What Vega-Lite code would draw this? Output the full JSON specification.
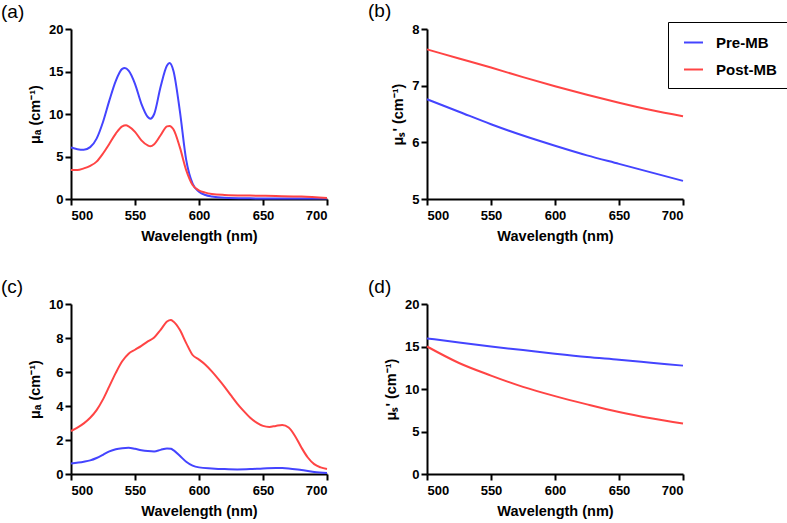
{
"$schema": "https://vega.github.io/schema/vega-lite/v6.json",
"autosize": "none",
"padding": {"left": 71, "top": 29, "right": 716, "bottom": 494},
"background": "white",
"bounds": "flush",
"columns": 2,
"spacing": {"row": 105, "column": 100},
"config": {
  "view": {"stroke": null},
  "font": "Liberation Sans",
  "axis": {"grid": false, "domainColor": "black", "domainWidth": 2, "tickColor": "black", "tickWidth": 2, "tickSize": 6,
           "labelFont": "Liberation Sans", "labelFontSize": 13, "labelFontWeight": "bold", "labelColor": "black",
           "titleFont": "Liberation Sans", "titleFontSize": 14.5, "titleFontWeight": "bold", "titleColor": "black", "labelPadding": 2},
  "axisX": {"titlePadding": 7, "labelPadding": 4},
  "axisY": {"titlePadding": 6},
  "title": {"anchor": "start", "frame": "group", "fontSize": 19, "fontWeight": "normal", "font": "Liberation Sans", "color": "black", "offset": 0, "dy": 3}
},
"data": {"values": [
{"p":"a","s":"Pre-MB","w":500,"v":6.05},{"p":"a","s":"Pre-MB","w":505,"v":5.86},{"p":"a","s":"Pre-MB","w":510,"v":5.8},{"p":"a","s":"Pre-MB","w":515,"v":6.1},{"p":"a","s":"Pre-MB","w":520,"v":7.1},{"p":"a","s":"Pre-MB","w":525,"v":9.06},{"p":"a","s":"Pre-MB","w":530,"v":11.6},{"p":"a","s":"Pre-MB","w":535,"v":13.9},{"p":"a","s":"Pre-MB","w":540,"v":15.3},{"p":"a","s":"Pre-MB","w":542,"v":15.4},{"p":"a","s":"Pre-MB","w":545,"v":15.1},{"p":"a","s":"Pre-MB","w":550,"v":13.55},{"p":"a","s":"Pre-MB","w":555,"v":11.2},{"p":"a","s":"Pre-MB","w":560,"v":9.65},{"p":"a","s":"Pre-MB","w":562,"v":9.45},{"p":"a","s":"Pre-MB","w":565,"v":10.0},{"p":"a","s":"Pre-MB","w":570,"v":13.2},{"p":"a","s":"Pre-MB","w":575,"v":15.7},{"p":"a","s":"Pre-MB","w":577,"v":16.0},{"p":"a","s":"Pre-MB","w":580,"v":15.1},{"p":"a","s":"Pre-MB","w":585,"v":10.4},{"p":"a","s":"Pre-MB","w":590,"v":4.6},{"p":"a","s":"Pre-MB","w":595,"v":1.8},{"p":"a","s":"Pre-MB","w":600,"v":0.86},{"p":"a","s":"Pre-MB","w":605,"v":0.47},{"p":"a","s":"Pre-MB","w":610,"v":0.3},{"p":"a","s":"Pre-MB","w":620,"v":0.15},{"p":"a","s":"Pre-MB","w":640,"v":0.08},{"p":"a","s":"Pre-MB","w":660,"v":0.05},{"p":"a","s":"Pre-MB","w":680,"v":0.05},{"p":"a","s":"Pre-MB","w":700,"v":0.05},
{"p":"a","s":"Post-MB","w":500,"v":3.4},{"p":"a","s":"Post-MB","w":505,"v":3.4},{"p":"a","s":"Post-MB","w":510,"v":3.6},{"p":"a","s":"Post-MB","w":515,"v":3.9},{"p":"a","s":"Post-MB","w":520,"v":4.4},{"p":"a","s":"Post-MB","w":525,"v":5.35},{"p":"a","s":"Post-MB","w":530,"v":6.5},{"p":"a","s":"Post-MB","w":535,"v":7.7},{"p":"a","s":"Post-MB","w":540,"v":8.55},{"p":"a","s":"Post-MB","w":543,"v":8.67},{"p":"a","s":"Post-MB","w":545,"v":8.55},{"p":"a","s":"Post-MB","w":550,"v":7.9},{"p":"a","s":"Post-MB","w":555,"v":6.9},{"p":"a","s":"Post-MB","w":560,"v":6.3},{"p":"a","s":"Post-MB","w":562,"v":6.2},{"p":"a","s":"Post-MB","w":565,"v":6.45},{"p":"a","s":"Post-MB","w":570,"v":7.5},{"p":"a","s":"Post-MB","w":575,"v":8.55},{"p":"a","s":"Post-MB","w":577,"v":8.6},{"p":"a","s":"Post-MB","w":580,"v":8.2},{"p":"a","s":"Post-MB","w":585,"v":6.1},{"p":"a","s":"Post-MB","w":590,"v":3.4},{"p":"a","s":"Post-MB","w":595,"v":1.65},{"p":"a","s":"Post-MB","w":600,"v":1.0},{"p":"a","s":"Post-MB","w":605,"v":0.75},{"p":"a","s":"Post-MB","w":610,"v":0.6},{"p":"a","s":"Post-MB","w":620,"v":0.48},{"p":"a","s":"Post-MB","w":640,"v":0.4},{"p":"a","s":"Post-MB","w":660,"v":0.35},{"p":"a","s":"Post-MB","w":680,"v":0.28},{"p":"a","s":"Post-MB","w":700,"v":0.12},
{"p":"b","s":"Pre-MB","w":500,"v":6.76},{"p":"b","s":"Pre-MB","w":525,"v":6.54},{"p":"b","s":"Pre-MB","w":550,"v":6.32},{"p":"b","s":"Pre-MB","w":575,"v":6.12},{"p":"b","s":"Pre-MB","w":600,"v":5.94},{"p":"b","s":"Pre-MB","w":625,"v":5.77},{"p":"b","s":"Pre-MB","w":650,"v":5.62},{"p":"b","s":"Pre-MB","w":675,"v":5.47},{"p":"b","s":"Pre-MB","w":700,"v":5.32},
{"p":"b","s":"Post-MB","w":500,"v":7.64},{"p":"b","s":"Post-MB","w":525,"v":7.48},{"p":"b","s":"Post-MB","w":550,"v":7.32},{"p":"b","s":"Post-MB","w":575,"v":7.15},{"p":"b","s":"Post-MB","w":600,"v":6.99},{"p":"b","s":"Post-MB","w":625,"v":6.84},{"p":"b","s":"Post-MB","w":650,"v":6.70},{"p":"b","s":"Post-MB","w":675,"v":6.57},{"p":"b","s":"Post-MB","w":700,"v":6.46},
{"p":"c","s":"Pre-MB","w":500,"v":0.62},{"p":"c","s":"Pre-MB","w":510,"v":0.72},{"p":"c","s":"Pre-MB","w":515,"v":0.8},{"p":"c","s":"Pre-MB","w":520,"v":0.94},{"p":"c","s":"Pre-MB","w":525,"v":1.13},{"p":"c","s":"Pre-MB","w":530,"v":1.33},{"p":"c","s":"Pre-MB","w":535,"v":1.46},{"p":"c","s":"Pre-MB","w":540,"v":1.52},{"p":"c","s":"Pre-MB","w":545,"v":1.54},{"p":"c","s":"Pre-MB","w":550,"v":1.48},{"p":"c","s":"Pre-MB","w":555,"v":1.4},{"p":"c","s":"Pre-MB","w":560,"v":1.35},{"p":"c","s":"Pre-MB","w":565,"v":1.33},{"p":"c","s":"Pre-MB","w":570,"v":1.42},{"p":"c","s":"Pre-MB","w":575,"v":1.5},{"p":"c","s":"Pre-MB","w":578,"v":1.48},{"p":"c","s":"Pre-MB","w":580,"v":1.4},{"p":"c","s":"Pre-MB","w":585,"v":1.07},{"p":"c","s":"Pre-MB","w":590,"v":0.72},{"p":"c","s":"Pre-MB","w":595,"v":0.49},{"p":"c","s":"Pre-MB","w":600,"v":0.39},{"p":"c","s":"Pre-MB","w":610,"v":0.33},{"p":"c","s":"Pre-MB","w":620,"v":0.29},{"p":"c","s":"Pre-MB","w":630,"v":0.27},{"p":"c","s":"Pre-MB","w":640,"v":0.29},{"p":"c","s":"Pre-MB","w":650,"v":0.33},{"p":"c","s":"Pre-MB","w":660,"v":0.35},{"p":"c","s":"Pre-MB","w":665,"v":0.35},{"p":"c","s":"Pre-MB","w":670,"v":0.33},{"p":"c","s":"Pre-MB","w":680,"v":0.23},{"p":"c","s":"Pre-MB","w":690,"v":0.12},{"p":"c","s":"Pre-MB","w":700,"v":0.06},
{"p":"c","s":"Post-MB","w":500,"v":2.53},{"p":"c","s":"Post-MB","w":505,"v":2.73},{"p":"c","s":"Post-MB","w":510,"v":2.98},{"p":"c","s":"Post-MB","w":515,"v":3.31},{"p":"c","s":"Post-MB","w":520,"v":3.76},{"p":"c","s":"Post-MB","w":525,"v":4.39},{"p":"c","s":"Post-MB","w":530,"v":5.17},{"p":"c","s":"Post-MB","w":535,"v":5.95},{"p":"c","s":"Post-MB","w":540,"v":6.63},{"p":"c","s":"Post-MB","w":545,"v":7.08},{"p":"c","s":"Post-MB","w":550,"v":7.31},{"p":"c","s":"Post-MB","w":555,"v":7.54},{"p":"c","s":"Post-MB","w":560,"v":7.8},{"p":"c","s":"Post-MB","w":565,"v":8.03},{"p":"c","s":"Post-MB","w":570,"v":8.48},{"p":"c","s":"Post-MB","w":575,"v":8.97},{"p":"c","s":"Post-MB","w":578,"v":9.06},{"p":"c","s":"Post-MB","w":580,"v":8.97},{"p":"c","s":"Post-MB","w":585,"v":8.48},{"p":"c","s":"Post-MB","w":590,"v":7.7},{"p":"c","s":"Post-MB","w":595,"v":7.0},{"p":"c","s":"Post-MB","w":600,"v":6.73},{"p":"c","s":"Post-MB","w":605,"v":6.43},{"p":"c","s":"Post-MB","w":610,"v":6.04},{"p":"c","s":"Post-MB","w":615,"v":5.6},{"p":"c","s":"Post-MB","w":620,"v":5.13},{"p":"c","s":"Post-MB","w":625,"v":4.62},{"p":"c","s":"Post-MB","w":630,"v":4.13},{"p":"c","s":"Post-MB","w":635,"v":3.7},{"p":"c","s":"Post-MB","w":640,"v":3.31},{"p":"c","s":"Post-MB","w":645,"v":3.02},{"p":"c","s":"Post-MB","w":650,"v":2.83},{"p":"c","s":"Post-MB","w":655,"v":2.77},{"p":"c","s":"Post-MB","w":660,"v":2.83},{"p":"c","s":"Post-MB","w":665,"v":2.88},{"p":"c","s":"Post-MB","w":670,"v":2.73},{"p":"c","s":"Post-MB","w":675,"v":2.24},{"p":"c","s":"Post-MB","w":680,"v":1.56},{"p":"c","s":"Post-MB","w":685,"v":0.97},{"p":"c","s":"Post-MB","w":690,"v":0.58},{"p":"c","s":"Post-MB","w":695,"v":0.39},{"p":"c","s":"Post-MB","w":700,"v":0.29},
{"p":"d","s":"Pre-MB","w":500,"v":15.95},{"p":"d","s":"Pre-MB","w":525,"v":15.48},{"p":"d","s":"Pre-MB","w":550,"v":15.0},{"p":"d","s":"Pre-MB","w":575,"v":14.58},{"p":"d","s":"Pre-MB","w":600,"v":14.15},{"p":"d","s":"Pre-MB","w":625,"v":13.76},{"p":"d","s":"Pre-MB","w":650,"v":13.45},{"p":"d","s":"Pre-MB","w":675,"v":13.1},{"p":"d","s":"Pre-MB","w":700,"v":12.75},
{"p":"d","s":"Post-MB","w":500,"v":15.0},{"p":"d","s":"Post-MB","w":525,"v":13.06},{"p":"d","s":"Post-MB","w":550,"v":11.58},{"p":"d","s":"Post-MB","w":575,"v":10.25},{"p":"d","s":"Post-MB","w":600,"v":9.16},{"p":"d","s":"Post-MB","w":625,"v":8.19},{"p":"d","s":"Post-MB","w":650,"v":7.29},{"p":"d","s":"Post-MB","w":675,"v":6.55},{"p":"d","s":"Post-MB","w":700,"v":5.93}
]},
"resolve": {"scale": {"color": "independent"}, "legend": {"color": "independent"}},
"concat": [
{
 "width": 256, "height": 170,
 "title": {"text": "(a)", "dx": -70},
 "transform": [{"filter": "datum.p === 'a'"}],
 "mark": {"type": "line", "interpolate": "monotone", "strokeWidth": 2},
 "encoding": {
  "x": {"field": "w", "type": "quantitative", "scale": {"domain": [500, 700]}, "axis": {"values": [500, 550, 600, 650, 700], "title": "Wavelength (nm)"}},
  "y": {"field": "v", "type": "quantitative", "scale": {"domain": [0, 20]}, "axis": {"values": [0, 5, 10, 15, 20], "title": "μₐ (cm⁻¹)"}},
  "color": {"field": "s", "type": "nominal", "scale": {"domain": ["Pre-MB", "Post-MB"], "range": ["#4444ff", "#ff4444"]}, "legend": null}
 }
},
{
 "width": 256, "height": 170,
 "title": {"text": "(b)", "dx": -59},
 "transform": [{"filter": "datum.p === 'b'"}],
 "mark": {"type": "line", "interpolate": "monotone", "strokeWidth": 2},
 "encoding": {
  "x": {"field": "w", "type": "quantitative", "scale": {"domain": [500, 700]}, "axis": {"values": [500, 550, 600, 650, 700], "title": "Wavelength (nm)"}},
  "y": {"field": "v", "type": "quantitative", "scale": {"domain": [5, 8], "zero": false}, "axis": {"values": [5, 6, 7, 8], "title": "μₛ' (cm⁻¹)"}},
  "color": {"field": "s", "type": "nominal", "scale": {"domain": ["Pre-MB", "Post-MB"], "range": ["#4444ff", "#ff4444"]},
    "legend": {"title": null, "orient": "none", "legendX": 241, "legendY": -7, "strokeColor": "black", "padding": 10,
      "symbolType": "stroke", "symbolSize": 361, "symbolStrokeWidth": 2, "symbolOffset": 5,
      "labelFont": "Liberation Sans", "labelFontSize": 15, "labelFontWeight": "bold", "labelColor": "black", "labelOffset": 12, "rowPadding": 8}}
 }
},
{
 "width": 256, "height": 170,
 "title": {"text": "(c)", "dx": -70},
 "transform": [{"filter": "datum.p === 'c'"}],
 "mark": {"type": "line", "interpolate": "monotone", "strokeWidth": 2},
 "encoding": {
  "x": {"field": "w", "type": "quantitative", "scale": {"domain": [500, 700]}, "axis": {"values": [500, 550, 600, 650, 700], "title": "Wavelength (nm)"}},
  "y": {"field": "v", "type": "quantitative", "scale": {"domain": [0, 10]}, "axis": {"values": [0, 2, 4, 6, 8, 10], "title": "μₐ (cm⁻¹)"}},
  "color": {"field": "s", "type": "nominal", "scale": {"domain": ["Pre-MB", "Post-MB"], "range": ["#4444ff", "#ff4444"]}, "legend": null}
 }
},
{
 "width": 256, "height": 170,
 "title": {"text": "(d)", "dx": -59},
 "transform": [{"filter": "datum.p === 'd'"}],
 "mark": {"type": "line", "interpolate": "monotone", "strokeWidth": 2},
 "encoding": {
  "x": {"field": "w", "type": "quantitative", "scale": {"domain": [500, 700]}, "axis": {"values": [500, 550, 600, 650, 700], "title": "Wavelength (nm)"}},
  "y": {"field": "v", "type": "quantitative", "scale": {"domain": [0, 20]}, "axis": {"values": [0, 5, 10, 15, 20], "title": "μₛ' (cm⁻¹)"}},
  "color": {"field": "s", "type": "nominal", "scale": {"domain": ["Pre-MB", "Post-MB"], "range": ["#4444ff", "#ff4444"]}, "legend": null}
 }
}
]
}
